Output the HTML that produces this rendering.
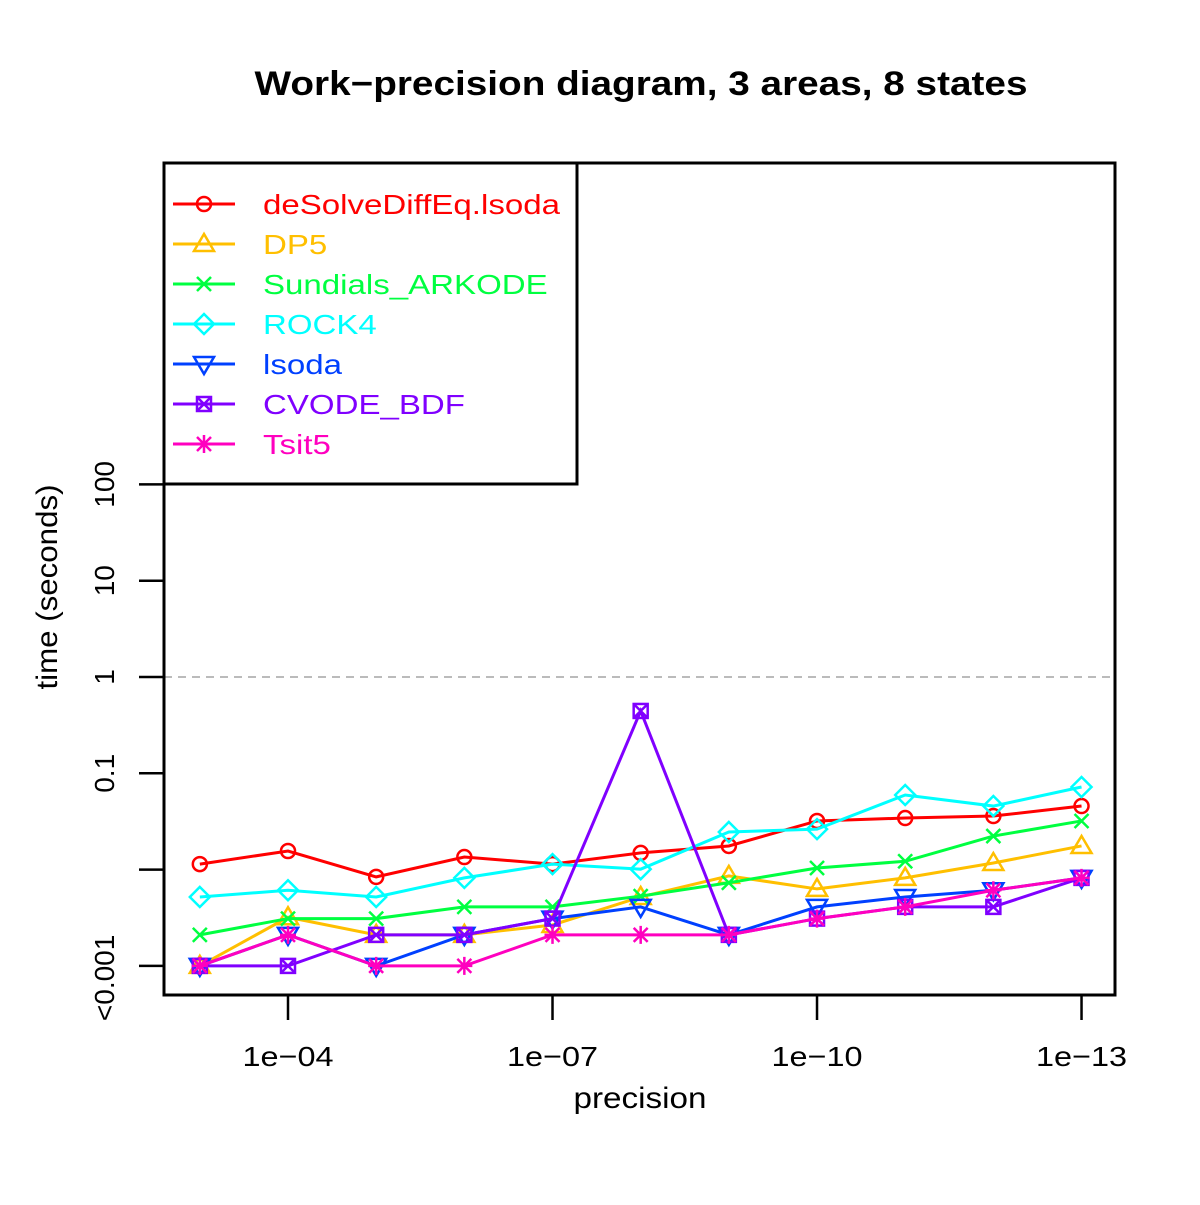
<!DOCTYPE html>
<html><head><meta charset="utf-8"><style>
body{margin:0;background:#fff}
svg text{font-family:"Liberation Sans","DejaVu Sans",sans-serif}
</style></head><body>
<svg id="chart" width="1200" height="1200" viewBox="0 0 1200 1200" xmlns="http://www.w3.org/2000/svg">
<rect width="1200" height="1200" fill="#fff"/>
<text x="641" y="95" font-size="34" font-weight="bold" text-anchor="middle" textLength="773" lengthAdjust="spacingAndGlyphs">Work−precision diagram, 3 areas, 8 states</text>
<text x="640" y="1108" font-size="30" text-anchor="middle" textLength="133" lengthAdjust="spacingAndGlyphs">precision</text>
<text transform="translate(57,587) rotate(-90)" font-size="30" text-anchor="middle" textLength="205" lengthAdjust="spacingAndGlyphs">time (seconds)</text>
<g id="plot"></g>
</svg>
<script>
const precisions = [1e-3,1e-4,1e-5,1e-6,1e-7,1e-8,1e-9,1e-10,1e-11,1e-12,1e-13];
const xTickValues = [1e-4,1e-7,1e-10,1e-13];
const xTickLabels = ["1e−04","1e−07","1e−10","1e−13"];
const yTickValues = [100,10,1,0.1,0.01,0.001];
const yTickLabels = ["100","10","1","0.1","","<0.001"];
const seriesNames = ["deSolveDiffEq.lsoda","DP5","Sundials_ARKODE","ROCK4","lsoda","CVODE_BDF","Tsit5"];
const seriesColors = ["#FF0000","#FFBF00","#00FF40","#00FFFF","#0040FF","#8000FF","#FF00BF"];
const timesRed = [0.0114,0.0156,0.0084,0.0135,0.0114,0.0149,0.0176,0.032,0.0343,0.036,0.0457];
const timesOrange = [0.001,0.0032,0.0021,0.0021,0.00266,0.0052,0.0086,0.0063,0.0082,0.0117,0.0176];
const timesGreen = [0.0021,0.0031,0.0031,0.0041,0.0041,0.0053,0.0073,0.0104,0.0122,0.0223,0.032];
const timesCyan = [0.0052,0.0061,0.0052,0.0082,0.0114,0.0101,0.0246,0.0263,0.0595,0.0457,0.0721];
const timesBlue = [0.001,0.0021,0.001,0.0021,0.0031,0.0041,0.0021,0.0041,0.0052,0.0061,0.0082];
const timesPurple = [0.001,0.001,0.0021,0.0021,0.0031,0.444,0.0021,0.0031,0.0041,0.0041,0.0082];
const timesPink = [0.001,0.0021,0.001,0.001,0.0021,0.0021,0.0021,0.0031,0.0041,0.0061,0.0082];
const allSeries = [timesRed,timesOrange,timesGreen,timesCyan,timesBlue,timesPurple,timesPink];
const markerTypes = ["circle","triangle","x","diamond","down","squarex","asterisk"];

const NS="http://www.w3.org/2000/svg";
const g=document.getElementById('plot');
const X0=164,X1=1115,Y0=163,Y1=995;
function xScale(p){return 288+(-Math.log10(p)-4)*88.17;}
function yScale(v){return 677-Math.log10(v)*96.3;}
function mk(tag,attrs,parent){const e=document.createElementNS(NS,tag);for(const k in attrs)e.setAttribute(k,attrs[k]);(parent||g).appendChild(e);return e;}

const ref=mk('line',{x1:X0,x2:X1,y1:yScale(1),y2:yScale(1),stroke:'#bbb','stroke-width':2,'stroke-dasharray':'8,6'});



xTickValues.forEach((v,i)=>{
  const x=xScale(v);
  const t=mk('line',{x1:x,x2:x,y1:Y1,y2:Y1+25,stroke:'#000','stroke-width':2.5});
  
  
  const l=mk('text',{x:x,y:1066,'font-size':28,'text-anchor':'middle',textLength:91,lengthAdjust:'spacingAndGlyphs'});
  l.textContent=xTickLabels[i];
  
  
});
yTickValues.forEach((v,i)=>{
  const y=yScale(v);
  const t=mk('line',{x1:X0-25,x2:X0,y1:y,y2:y,stroke:'#000','stroke-width':2.5});
  
  
  if(yTickLabels[i]){
    const yy = yTickLabels[i]==="<0.001" ? y+12 : y;
    const l=mk('text',{transform:`translate(114,${yy}) rotate(-90)`,'font-size':28,'text-anchor':'middle'});
    l.textContent=yTickLabels[i];
    
    
  }
});

function marker(type,x,y,c,parent){
  const a={fill:'none',stroke:c,'stroke-width':2.5};
  const p=parent||g;
  if(type==='circle') mk('circle',Object.assign({cx:x,cy:y,r:7},a),p);
  else if(type==='triangle') mk('polygon',Object.assign({points:`${x},${y-10} ${x-10},${y+7} ${x+10},${y+7}`},a),p);
  else if(type==='down') mk('polygon',Object.assign({points:`${x},${y+10} ${x-10},${y-7} ${x+10},${y-7}`},a),p);
  else if(type==='diamond') mk('polygon',Object.assign({points:`${x},${y-10} ${x+10},${y} ${x},${y+10} ${x-10},${y}`},a),p);
  else if(type==='x'){mk('path',Object.assign({d:`M${x-7},${y-7}L${x+7},${y+7}M${x-7},${y+7}L${x+7},${y-7}`},a),p);}
  else if(type==='squarex'){mk('rect',Object.assign({x:x-7,y:y-7,width:14,height:14},a),p);mk('path',Object.assign({d:`M${x-7},${y-7}L${x+7},${y+7}M${x-7},${y+7}L${x+7},${y-7}`},a),p);}
  else if(type==='asterisk'){mk('path',Object.assign({d:`M${x-8},${y}L${x+8},${y}M${x},${y-9}L${x},${y+9}M${x-7},${y-7}L${x+7},${y+7}M${x-7},${y+7}L${x+7},${y-7}`},a),p);}
}

allSeries.forEach((vals,si)=>{
  const sg=mk('g',{});
  
  
  const pts=vals.map((v,i)=>xScale(precisions[i])+','+yScale(v)).join(' ');
  mk('polyline',{points:pts,fill:'none',stroke:seriesColors[si],'stroke-width':3},sg);
  vals.forEach((v,i)=>marker(markerTypes[si],xScale(precisions[i]),yScale(v),seriesColors[si],sg));
});

const box=mk('rect',{x:X0,y:Y0,width:X1-X0,height:Y1-Y0,fill:'none',stroke:'#000','stroke-width':3});



const lg=mk('g',{});


mk('rect',{x:X0,y:Y0,width:413,height:321,fill:'#fff',stroke:'#000','stroke-width':3},lg);
seriesNames.forEach((n,i)=>{
  const y=204+i*40;
  const eg=mk('g',{},lg);
  
  
  mk('line',{x1:173,x2:235,y1:y,y2:y,stroke:seriesColors[i],'stroke-width':3},eg);
  marker(markerTypes[i],204,y,seriesColors[i],eg);
  const t=mk('text',{x:263,y:y+10,'font-size':28,fill:seriesColors[i]},eg);
  t.textContent=n;
  const w=t.getComputedTextLength();
  t.setAttribute('textLength',(w*1.18).toFixed(1));
  t.setAttribute('lengthAdjust','spacingAndGlyphs');
});
</script>
</body></html>
